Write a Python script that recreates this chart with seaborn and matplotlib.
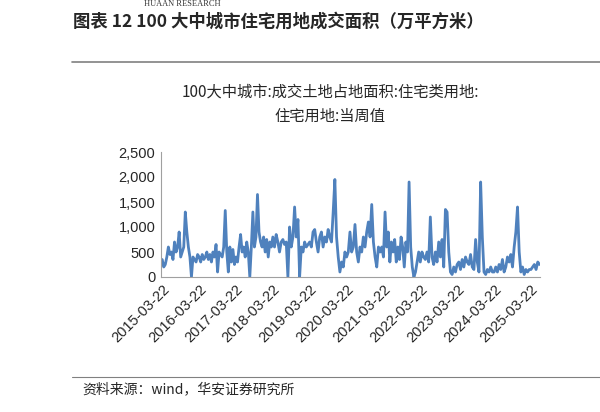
import pandas as pd
import numpy as np
import matplotlib
matplotlib.use('Agg')
import matplotlib.pyplot as plt
import matplotlib.dates as mdates
import seaborn as sns
from matplotlib.ticker import FuncFormatter

# --- Data: weekly-ish readings per year (万平方米), each year from 03-22 ---
y2015 = [350, 200, 250, 400, 600, 450, 500, 350, 700, 500, 600, 900, 400, 500, 600, 1300, 900, 600, 400, 0, 400, 350, 300, 450]
y2016 = [400, 300, 450, 350, 400, 500, 350, 450, 300, 500, 400, 650, 100, 500, 450, 400, 600, 1330, 500, 100, 600, 300, 550, 250]
y2017 = [400, 300, 600, 850, 500, 600, 400, 700, 500, 0, 600, 1300, 600, 800, 1650, 900, 700, 600, 800, 500, 750, 400, 700, 600]
y2018 = [800, 600, 850, 700, 500, 700, 750, 650, 700, 0, 1000, 600, 800, 1400, 800, 1150, 0, 600, 500, 700, 600, 650]
y2019 = [700, 600, 900, 950, 700, 500, 800, 900, 600, 800, 700, 950, 800, 700, 1300, 1950, 800, 400, 100, 300, 200, 500]
y2020 = [400, 500, 900, 500, 600, 1050, 500, 300, 600, 500, 800, 600, 900, 1100, 800, 1450, 700, 400, 200, 600, 500, 600]
y2021 = [400, 1300, 600, 900, 300, 700, 500, 750, 300, 600, 350, 800, 600, 200, 700, 500, 1900, 600, 200, 0, 100, 300, 500]
y2022 = [300, 500, 400, 350, 500, 300, 1200, 400, 250, 500, 300, 700, 400, 750, 200, 1350, 1300, 500, 100, 50, 200, 100]
y2023 = [250, 300, 150, 350, 200, 400, 300, 250, 450, 200, 150, 750, 300, 100, 1900, 800, 100, 50, 150, 100, 200, 100]
y2024 = [100, 200, 100, 250, 150, 350, 100, 200, 400, 300, 450, 200, 600, 900, 1400, 500, 100, 200, 50, 150, 100, 150]
y2025 = [150, 200, 250, 150, 300, 250]

years = [2015, 2016, 2017, 2018, 2019, 2020, 2021, 2022, 2023, 2024, 2025]
yearly = [y2015, y2016, y2017, y2018, y2019, y2020, y2021, y2022, y2023, y2024, y2025]

frames = []
for yr, vals in zip(years, yearly):
    if yr == 2025:
        dates = pd.date_range(f'{yr}-03-22', f'{yr}-06-15', periods=len(vals))
    else:
        dates = pd.date_range(f'{yr}-03-22', f'{yr + 1}-03-22', periods=len(vals) + 1)[:-1]
    frames.append(pd.DataFrame({'date': dates, 'value': vals}))
df = pd.concat(frames, ignore_index=True)

tick_dates = pd.to_datetime([f'{y}-03-22' for y in years])

sns.set_style('white')
plt.rcParams['font.family'] = ['Noto Sans CJK SC', 'DejaVu Sans']

fig = plt.figure(figsize=(6, 4.12), dpi=100)
ax = fig.add_axes([161 / 600, 1 - 277 / 412, (540 - 161) / 600, (277 - 152) / 412])

sns.lineplot(data=df, x='date', y='value', ax=ax, color='#4f81bd', linewidth=2)

ax.set_ylim(0, 2500)
ax.set_yticks(np.arange(0, 2501, 500))
ax.yaxis.set_major_formatter(FuncFormatter(lambda v, p: f'{int(v):,}'))
ax.set_xlim(pd.Timestamp('2015-03-10'), pd.Timestamp('2025-06-20'))
ax.set_xticks(tick_dates)
ax.set_xticklabels([d.strftime('%Y-%m-%d') for d in tick_dates], rotation=45, ha='right',
                   rotation_mode='anchor', family=['Liberation Sans', 'DejaVu Sans'])
for lab in ax.get_yticklabels():
    lab.set_family(['Liberation Sans', 'DejaVu Sans'])
ax.tick_params(labelsize=10.5, length=0, pad=4)
ax.set_xlabel('')
ax.set_ylabel('')
for s in ['top', 'right']:
    ax.spines[s].set_visible(False)
for s in ['left', 'bottom']:
    ax.spines[s].set_color('#a0a0a0')

# Header and footer text
fig.text(375 / 1568 * 600 / 600 * 0 + 144 / 600, 1 - 4 / 412, 'HUAAN RESEARCH', fontsize=6,
         color='#333333', family=['Liberation Serif', 'DejaVu Serif'], va='center')
fig.text(73 / 600, 1 - 22 / 412, '图表 12 100 大中城市住宅用地成交面积（万平方米）',
         fontsize=12.5, fontweight='bold', va='center')
fig.add_artist(plt.Line2D([72 / 600, 1], [1 - 62 / 412] * 2, color='#808080', lw=1.2))
fig.text(330 / 600, 1 - 92 / 412, '100大中城市:成交土地占地面积:住宅类用地:', fontsize=11,
         ha='center', va='center')
fig.text(330 / 600, 1 - 116 / 412, '住宅用地:当周值', fontsize=11, ha='center', va='center')
fig.add_artist(plt.Line2D([72 / 600, 1], [1 - 377 / 412] * 2, color='#808080', lw=0.8))
fig.text(82 / 600, 1 - 389 / 412, '资料来源：wind，华安证券研究所', fontsize=10, va='center')

fig.savefig('out.png', dpi=100)
